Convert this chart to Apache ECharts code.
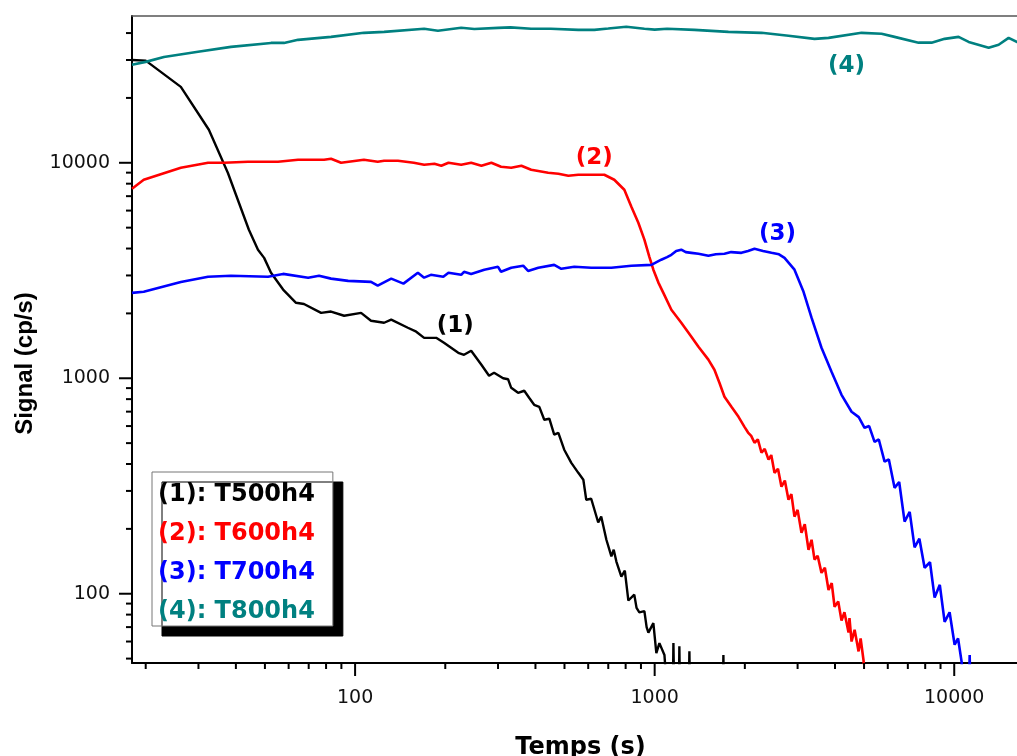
<!DOCTYPE html>
<html>
<head>
<meta charset="utf-8">
<script src="https://cdn.jsdelivr.net/npm/echarts@6/dist/echarts.min.js"></script>
<style>html,body{margin:0;padding:0;background:#fff}#c{width:1017px;height:756px}</style>
</head>
<body>
<div id="c"></div>
<script>
// ---- data (time in s, signal in cp/s) ----
const seriesNames = ['(1): T500h4', '(2): T600h4', '(3): T700h4', '(4): T800h4'];
const curveLabels = ['(1)', '(2)', '(3)', '(4)'];

const t500 = [[18,30000],[20,29800],[26.2,22500],[32.5,14230],[37.6,8990],[44.2,4890],[47.4,3950],[49.7,3620],[52.4,3090],[57.5,2580],[63.5,2240],[67.5,2210],[77,2010],[83.1,2040],[91.9,1950],[104.7,2010],[113,1850],[125,1810],[132,1870],[150,1715],[160,1645],[170,1540],[186.5,1540],[198,1460],[221,1313],[231,1285],[244,1341],[264,1155],[280,1027],[291,1060],[312,1000],[324,990],[332,903],[350,856],[367,875],[381,812],[396,753],[412,737],[428,642],[445,649],[462,547],[477,558],[499,466],[527,405],[556,364],[578,338],[591,273],[614,276],[648,214],[663,228],[690,178],[717,149],[730,160],[745,141],[774,120],[795,128],[817,93],[855,99],[870,86],[889,82],[924,83],[940,70],[953,66],[990,73],[1013,53],[1037,59],[1078,52],[1100,35],[1150,35],[1155,59],[1162,35],[1205,35],[1209,57],[1215,35],[1300,35],[1306,54],[1312,35],[1690,35],[1696,52],[1702,35]];

const t600 = [[18,7580],[19.7,8340],[26.2,9480],[32.3,10000],[36.5,10000],[43.9,10110],[55.3,10110],[64.5,10330],[78.8,10330],[83.1,10440],[89.8,10000],[107,10330],[119,10110],[125,10220],[139,10220],[157,10000],[170,9790],[184,9890],[194,9685],[205,10000],[226,9790],[244,10000],[264,9685],[285,10000],[307,9580],[332,9480],[359,9685],[387,9280],[441,8990],[477,8890],[515,8700],[556,8800],[614,8800],[679,8800],[733,8340],[792,7500],[836,6250],[882,5270],[924,4400],[960,3660],[990,3190],[1029,2780],[1069,2490],[1137,2080],[1227,1810],[1326,1560],[1400,1400],[1511,1220],[1583,1095],[1645,953],[1710,821],[1804,737],[1905,662],[1994,595],[2050,560],[2100,540],[2154,502],[2210,520],[2273,451],[2330,470],[2399,419],[2450,440],[2512,364],[2580,380],[2650,314],[2720,335],[2797,273],[2860,290],[2929,228],[3000,245],[3091,192],[3170,210],[3263,160],[3340,178],[3417,144],[3500,150],[3605,125],[3700,132],[3805,104],[3900,112],[3986,87],[4100,92],[4205,75],[4300,82],[4438,66],[4470,77],[4542,60],[4650,68],[4794,54],[4870,62],[4981,49],[5050,35]];

const t700 = [[18,2490],[19.7,2520],[26.2,2800],[32.3,2960],[38.5,2990],[51.2,2960],[57.5,3050],[69.7,2930],[75.8,2990],[83.1,2900],[94.8,2830],[113,2800],[119,2690],[132,2900],[145,2750],[162,3090],[170,2930],[179,3020],[197,2960],[205,3090],[226,3020],[231,3120],[244,3050],[270,3190],[300,3290],[307,3120],[332,3260],[364,3330],[378,3150],[409,3260],[462,3360],[488,3220],[539,3290],[614,3260],[717,3260],[836,3330],[975,3360],[1052,3550],[1100,3650],[1137,3740],[1180,3900],[1227,3950],[1270,3850],[1326,3820],[1400,3780],[1511,3700],[1600,3760],[1710,3780],[1800,3850],[1948,3820],[2050,3900],[2154,3990],[2300,3900],[2454,3820],[2600,3760],[2713,3620],[2929,3190],[3140,2520],[3339,1910],[3605,1385],[3894,1072],[4205,838],[4542,699],[4800,660],[5019,589],[5200,600],[5420,507],[5600,520],[5854,410],[6050,420],[6321,310],[6550,330],[6828,216],[7100,240],[7373,164],[7650,180],[7963,132],[8300,140],[8600,96],[8950,110],[9288,74],[9650,82],[10030,58],[10300,62],[10590,48],[10700,35],[11200,35],[11260,52],[11320,35]];

const t800 = [[18,28500],[20,29400],[23,31000],[29.9,32750],[38.5,34500],[52.4,36000],[57.9,36000],[64.5,37200],[83.1,38400],[107,40100],[125,40500],[170,41900],[189,41000],[226,42300],[250,41800],[300,42300],[330,42500],[387,41900],[450,41900],[556,41400],[629,41400],[700,42000],[804,42800],[924,41900],[1000,41500],[1100,41900],[1357,41400],[1763,40500],[2273,40100],[2797,38900],[3417,37600],[3805,38000],[4904,40100],[5720,39700],[6321,38400],[7603,36100],[8403,36100],[9288,37600],[10340,38400],[11170,36400],[13030,34200],[14070,35300],[15190,38000],[16160,36400],[17000,36000]];

const xLabelTicks = [100, 1000, 10000];
const yLabelTicks = [100, 1000, 10000];
const xMinorTicks = [20,30,40,50,60,70,80,90,200,300,400,500,600,700,800,900,2000,3000,4000,5000,6000,7000,8000,9000];
const yMinorTicks = [50,60,70,80,90,200,300,400,500,600,700,800,900,2000,3000,4000,5000,6000,7000,8000,9000,20000,30000,40000];

const X_MIN = 18, X_MAX = 16200, Y_MIN = 47.7, Y_MAX = 48000;
const colors = ['#000000', '#ff0000', '#0000ff', '#008080'];

const chart = echarts.init(document.getElementById('c'), null, {renderer: 'canvas'});

function fmt(list) {
  return function (v) { const r = Math.round(v); return list.includes(r) ? String(r) : ''; };
}
function tickRenderer(isX, majors) {
  return function (params, api) {
    const xv = api.value(0), yv = api.value(1);
    const v = isX ? xv : yv;
    const major = majors.some(m => Math.abs(m - v) < 1e-6);
    const len = major ? 13 : 6;
    const p = api.coord([xv, yv]);
    const shape = isX ? {x1: p[0], y1: p[1], x2: p[0], y2: p[1] + len}
                      : {x1: p[0] - len, y1: p[1], x2: p[0], y2: p[1]};
    return {type: 'line', shape: shape, style: {stroke: '#000', lineWidth: 2}};
  };
}

const lineData = [t500, t600, t700, t800];
const labelCoords = [[216, 1752], [629, 10550], [2570, 4683], [4371, 28200]];

const lineSeries = lineData.map((d, i) => ({
  name: seriesNames[i],
  type: 'line',
  data: d,
  showSymbol: false,
  symbol: 'none',
  clip: true,
  lineStyle: {color: colors[i], width: i === 0 ? 2.4 : 2.6},
  itemStyle: {color: colors[i]},
  z: 3,
  markPoint: {
    symbol: 'circle',
    symbolSize: 1,
    itemStyle: {color: 'rgba(0,0,0,0)'},
    label: {
      show: true, position: 'inside', formatter: curveLabels[i],
      color: colors[i], fontFamily: 'DejaVu Sans', fontWeight: 'bold', fontSize: 23
    },
    data: [{coord: labelCoords[i]}]
  }
}));

const allTicksX = xMinorTicks.concat(xLabelTicks).map(v => [v, Y_MIN]);
const allTicksY = yMinorTicks.concat(yLabelTicks).map(v => [X_MIN, v]);

chart.setOption({
  animation: false,
  backgroundColor: '#fff',
  grid: {left: 132, right: 0, top: 16, bottom: 93, containLabel: false, outerBoundsMode: 'none'},
  xAxis: [{
    type: 'log', logBase: 10, min: X_MIN, max: X_MAX,
    name: 'Temps (s)', nameLocation: 'middle', nameGap: 73,
    nameTextStyle: {fontFamily: 'DejaVu Sans', fontWeight: 'bold', fontSize: 24, color: '#000', padding: [0, 0, 0, 12]},
    axisLine: {show: true, onZero: false, lineStyle: {color: '#000', width: 2}},
    axisTick: {show: false},
    splitLine: {show: false},
    axisLabel: {show: true, margin: 26, formatter: fmt(xLabelTicks), fontFamily: 'DejaVu Sans', fontSize: 19, color: '#111', showMinLabel: false, showMaxLabel: false}
  }, {
    type: 'log', logBase: 10, min: X_MIN, max: X_MAX, position: 'top',
    axisLine: {show: true, onZero: false, lineStyle: {color: '#555', width: 1.5}},
    axisTick: {show: false}, axisLabel: {show: false}, splitLine: {show: false}
  }],
  yAxis: {
    type: 'log', logBase: 10, min: Y_MIN, max: Y_MAX,
    name: 'Signal (cp/s)', nameLocation: 'middle', nameGap: 95,
    nameTextStyle: {fontFamily: 'Liberation Sans', fontWeight: 'bold', fontSize: 24, color: '#000', padding: [0, 48, 0, 0]},
    axisLine: {show: true, onZero: false, lineStyle: {color: '#000', width: 2}},
    axisTick: {show: false},
    splitLine: {show: false},
    axisLabel: {show: true, margin: 22, formatter: fmt(yLabelTicks), fontFamily: 'DejaVu Sans', fontSize: 19, color: '#111', showMinLabel: false, showMaxLabel: false}
  },
  legend: {
    data: seriesNames.map((n, i) => ({name: n, icon: 'none', textStyle: {color: colors[i]}})),
    orient: 'vertical', left: 152, top: 472,
    itemWidth: 0, itemHeight: 0, itemGap: 13,
    selectedMode: false,
    padding: [10, 18, 1, 1],
    backgroundColor: '#fff', borderColor: '#777', borderWidth: 1, borderRadius: 0,
    shadowColor: '#000', shadowBlur: 0, shadowOffsetX: 10, shadowOffsetY: 10,
    textStyle: {fontFamily: 'DejaVu Sans', fontWeight: 'bold', fontSize: 24, lineHeight: 26}
  },
  series: lineSeries.concat([
    {type: 'custom', name: 'xticks', renderItem: tickRenderer(true, xLabelTicks), data: allTicksX, clip: false, silent: true, z: 5, xAxisIndex: 0},
    {type: 'custom', name: 'yticks', renderItem: tickRenderer(false, yLabelTicks), data: allTicksY, clip: false, silent: true, z: 5, xAxisIndex: 0}
  ])
});
</script>
</body>
</html>
